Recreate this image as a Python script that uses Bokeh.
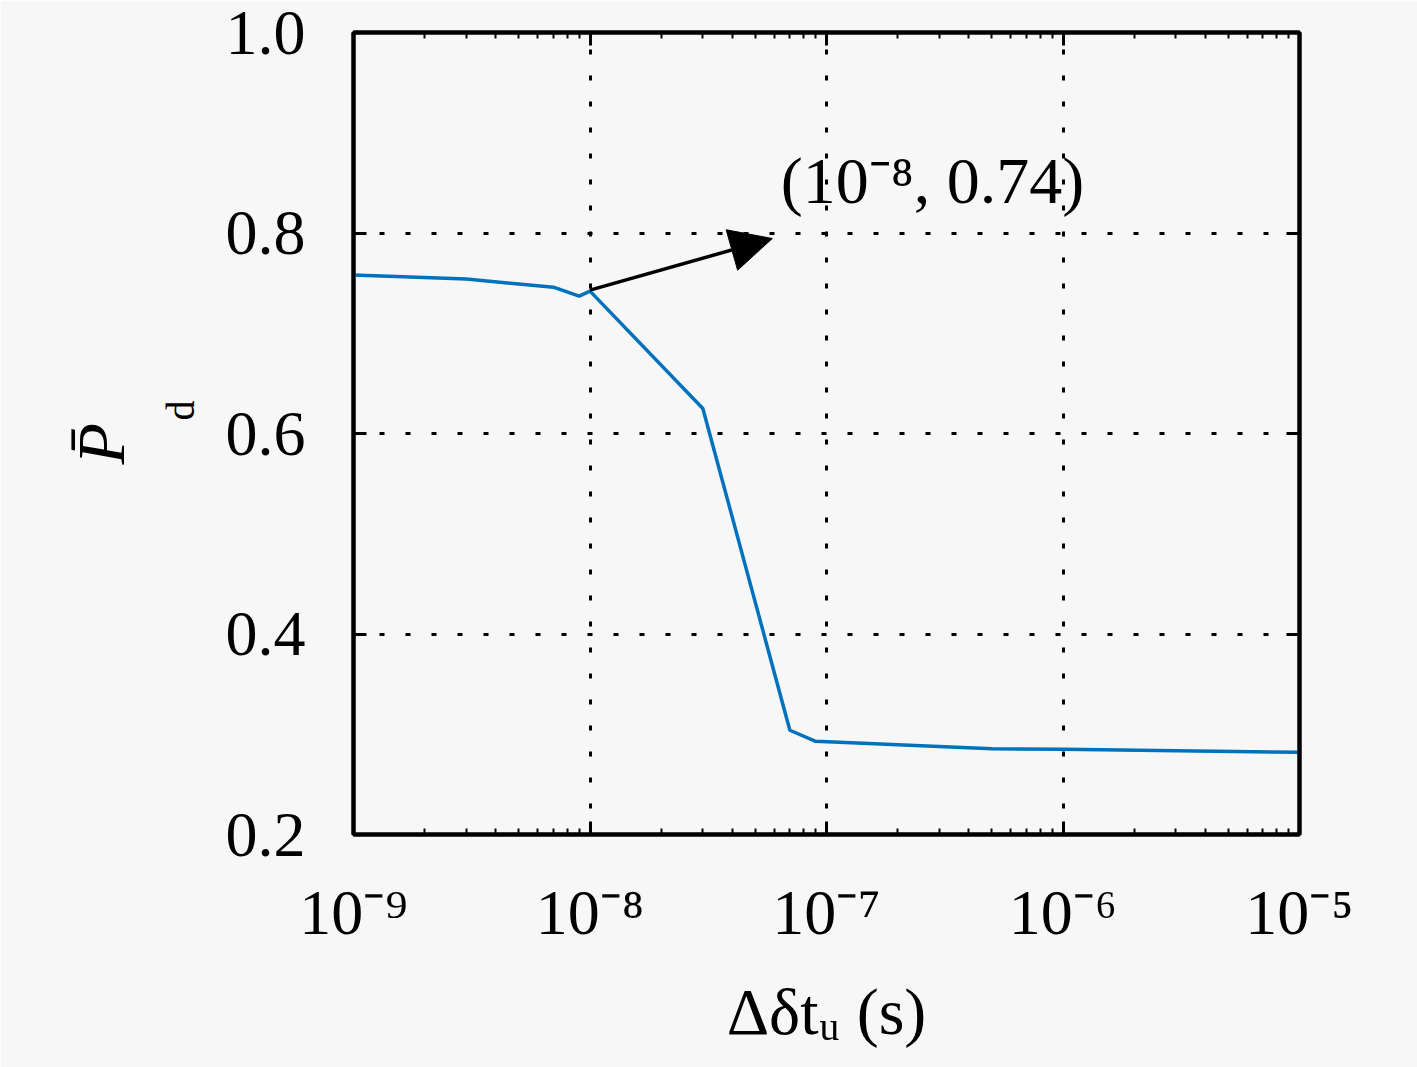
from bokeh.plotting import figure
from bokeh.models import (FixedTicker, LogAxis, LinearAxis, Label, Arrow,
                          NormalHead, Range1d, Title)
from bokeh.embed import file_html
from bokeh.resources import INLINE

# ---- data ----
dt = [1e-9, 3e-9, 7e-9, 9e-9, 1e-8, 3e-8, 7e-8, 9e-8, 5e-7, 1e-6, 1e-5]
pd_bar = [0.758, 0.754, 0.746, 0.737, 0.742, 0.625, 0.304, 0.293, 0.2855, 0.285, 0.282]

x_ticks = [1e-9, 1e-8, 1e-7, 1e-6, 1e-5]
x_tick_labels = ["10\u207b\u2079", "10\u207b\u2078", "10\u207b\u2077", "10\u207b\u2076", "10\u207b\u2075"]
y_ticks = [0.2, 0.4, 0.6, 0.8, 1.0]
y_tick_labels = ["0.2", "0.4", "0.6", "0.8", "1.0"]

x_title = "\u0394\u03b4t\u1d64 (s)"
y_title_main = "P\u0304"
y_title_sub = "d"

ann_start = (1e-8, 0.743)
ann_tip = (5.9e-8, 0.7945)
ann_text = "(10\u207b\u2078, 0.74)"
ann_text_pos = (6.4e-8, 0.852)

FONT = "Liberation Serif"
BG = "#f7f7f7"
LINE_COLOR = "#0072BD"

minor_x = [m * k for m in x_ticks[:-1] for k in range(2, 10)]

p = figure(width=1417, height=1067, x_axis_type="log",
           x_range=Range1d(x_ticks[0], x_ticks[-1]),
           y_range=Range1d(y_ticks[0], y_ticks[-1]),
           output_backend="svg", toolbar_location=None,
           min_border_left=353, min_border_right=118,
           min_border_top=32, min_border_bottom=233,
           background_fill_color=BG, border_fill_color=BG,
           outline_line_color="black", outline_line_width=4)

xt = FixedTicker(ticks=x_ticks, minor_ticks=minor_x)
yt = FixedTicker(ticks=y_ticks, minor_ticks=[])


def style_axis(ax, labels_visible):
    ax.axis_line_color = "black"
    ax.axis_line_width = 4
    ax.major_tick_line_color = "black"
    ax.major_tick_line_width = 3
    ax.major_tick_in = 13
    ax.major_tick_out = 0
    ax.minor_tick_line_color = "black"
    ax.minor_tick_line_width = 2
    ax.minor_tick_in = 6
    ax.minor_tick_out = 0
    ax.major_label_text_font = FONT
    ax.major_label_text_color = "black"
    if labels_visible:
        ax.major_label_text_font_size = "64px"
    else:
        ax.major_label_text_font_size = "1px"
        ax.major_label_standoff = 0


# bottom axis
xa = p.xaxis[0]
xa.ticker = xt
style_axis(xa, True)
xa.major_label_overrides = {t: s for t, s in zip(x_ticks, x_tick_labels)}
xa.major_label_standoff = 42
xa.axis_label = x_title
xa.axis_label_text_font = FONT
xa.axis_label_text_font_size = "66px"
xa.axis_label_text_font_style = "normal"
xa.axis_label_text_color = "black"
xa.axis_label_standoff = 24

# left axis
ya = p.yaxis[0]
ya.ticker = yt
style_axis(ya, True)
ya.minor_tick_line_color = None
ya.major_label_overrides = {t: s for t, s in zip(y_ticks, y_tick_labels)}
ya.major_label_standoff = 48

# y title: P̄ with subscript d
p.add_layout(Title(text=y_title_sub, align="left", offset=414, standoff=35,
                   vertical_align="top", text_line_height=1.6,
                   text_font=FONT, text_font_size="40px", text_font_style="normal",
                   text_color="black"), "left")
p.add_layout(Title(text=y_title_main, align="left", offset=370, standoff=0,
                   vertical_align="top", text_line_height=0.3,
                   text_font=FONT, text_font_size="68px", text_font_style="italic",
                   text_color="black"), "left")

# mirrored axes (top/right), ticks only
top = LogAxis(ticker=xt, major_label_overrides={t: "" for t in x_ticks})
style_axis(top, False)
p.add_layout(top, "above")
right = LinearAxis(ticker=yt, major_label_overrides={t: "" for t in y_ticks})
style_axis(right, False)
right.minor_tick_line_color = None
p.add_layout(right, "right")

# grid
for g in (p.xgrid[0], p.ygrid[0]):
    g.grid_line_color = "black"
    g.grid_line_width = 3
    g.grid_line_dash = "5 21"
p.xgrid[0].ticker = xt
p.ygrid[0].ticker = yt

# data line
p.line(dt, pd_bar, line_color=LINE_COLOR, line_width=3.5)

# annotation arrow + text
p.add_layout(Arrow(end=NormalHead(size=42, fill_color="black", line_color="black", line_width=1),
                   x_start=ann_start[0], y_start=ann_start[1],
                   x_end=ann_tip[0], y_end=ann_tip[1],
                   line_color="black", line_width=3.5))
p.add_layout(Label(x=ann_text_pos[0], y=ann_text_pos[1], text=ann_text,
                   text_font=FONT, text_font_size="66px", text_color="black",
                   text_align="left", text_baseline="alphabetic"))

open("out.html", "w").write(file_html(p, INLINE))
